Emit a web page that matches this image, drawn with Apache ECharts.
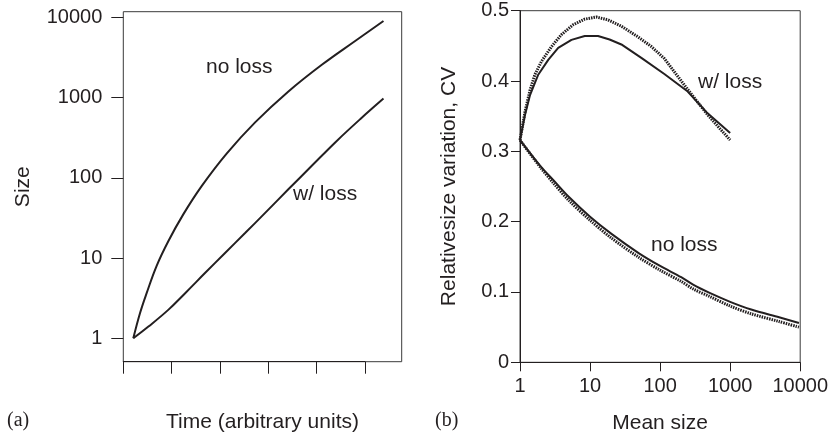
<!DOCTYPE html>
<html>
<head>
<meta charset="utf-8">
<script src="https://cdn.jsdelivr.net/npm/echarts@6/dist/echarts.min.js"></script>
<style>
  html, body { margin: 0; padding: 0; background: #fff; }
  #chart { width: 831px; height: 441px; }
</style>
</head>
<body>
<div id="chart"></div>
<script>
// panel (a): size against time, log scale
const timeNoLoss = [0.207, 0.345, 0.483, 0.69, 0.931, 1.241, 1.621, 2.138, 2.727, 3.416, 4.107, 4.797, 5.383];
const sizeNoLoss = [1, 2.05, 3.65, 8.0, 16.2, 35, 78.7, 200, 490, 1190, 2560, 5070, 9000];
const timeLoss = [0.207, 0.52, 0.93, 1.28, 1.69, 2.10, 2.52, 2.93, 3.42, 3.90, 4.40, 4.90, 5.383];
const sizeLoss = [1, 1.40, 2.26, 3.65, 6.5, 11.5, 20.5, 36.3, 72.4, 141, 282, 537, 970];
const sizeTicks = [1, 10, 100, 1000, 10000];

// panel (b): CV against mean size
const meanNoLoss = [1, 2, 3, 5, 10, 20, 50, 100, 200, 300, 500, 1000, 2000, 5000, 9600];
const cvNoLossSolid = [0.316, 0.278, 0.259, 0.235, 0.207, 0.183, 0.155, 0.137, 0.121, 0.110, 0.099, 0.086, 0.075, 0.064, 0.056];
const cvNoLossDotted = [0.316, 0.276, 0.255, 0.230, 0.202, 0.177, 0.149, 0.131, 0.115, 0.104, 0.094, 0.080, 0.069, 0.058, 0.050];
const meanLossSolid = [1, 1.18, 1.39, 1.82, 2.53, 3.51, 5.43, 8.4, 13, 19, 28, 54, 115, 248, 477, 1000];
const cvLossSolid = [0.316, 0.352, 0.380, 0.409, 0.430, 0.447, 0.4585, 0.464, 0.464, 0.459, 0.452, 0.433, 0.410, 0.385, 0.354, 0.326];
const meanLossDotted = [1, 1.18, 1.39, 1.63, 2.03, 2.82, 3.91, 5.73, 8.4, 12.3, 18, 28, 48, 75, 115, 248, 477, 1000];
const cvLossDotted = [0.316, 0.3565, 0.387, 0.409, 0.428, 0.449, 0.466, 0.480, 0.488, 0.491, 0.487, 0.478, 0.463, 0.449, 0.432, 0.388, 0.352, 0.316];

const ink = '#231f20';
const font = 'Liberation Sans, Arial, Helvetica, sans-serif';

function pairs(xs, ys) {
  return xs.map((x, i) => [x, ys[i]]);
}
// plain numbers, no thousands separator
function plain(v) {
  return String(Math.round(v * 1000) / 1000);
}

let myChart = echarts.init(document.getElementById('chart'), null, { renderer: 'canvas' });

const hidden = { show: false };
let tickStyle = (len) => ({ show: true, inside: false, length: len, lineStyle: { color: ink, width: 1 } });

var option = {
  animation: false,
  backgroundColor: '#fff',
  grid: [
    // box of panel a (border + axis names)
    { left: 123.3, top: 11.7, width: 278.4, height: 350, show: true, borderColor: '#3a3a3a', borderWidth: 1, containLabel: false },
    // data area of panel a: 1 .. 10000
    { left: 123.3, top: 17.3, width: 278.4, height: 321, containLabel: false },
    // time ticks 0..5 of panel a
    { left: 123.3, top: 11.7, width: 241.5, height: 350, containLabel: false },
    // panel b
    { left: 520, top: 10.7, width: 281.5, height: 351.6, show: true, borderColor: '#3a3a3a', borderWidth: 1, containLabel: false }
  ],
  xAxis: [
    {
      gridIndex: 0, type: 'value', min: 0, max: 1,
      axisLine: hidden, axisTick: hidden, axisLabel: hidden, splitLine: hidden,
      name: 'Time (arbitrary units)', nameLocation: 'middle', nameGap: 50,
      nameTextStyle: { fontFamily: font, fontSize: 21, color: ink }
    },
    {
      gridIndex: 1, type: 'value', min: 0, max: 5.76, show: false
    },
    {
      gridIndex: 2, type: 'value', min: 0, max: 5, interval: 1,
      axisLine: { show: true, lineStyle: { color: ink, width: 1 } },
      axisTick: tickStyle(12), axisLabel: hidden, splitLine: hidden
    },
    {
      gridIndex: 3, type: 'log', logBase: 10, min: 1, max: 10000,
      axisLine: { show: true, lineStyle: { color: ink, width: 1 } },
      axisTick: tickStyle(9), splitLine: hidden, minorTick: hidden,
      axisLabel: { margin: 14, fontFamily: font, fontSize: 20, color: ink, formatter: plain },
      name: 'Mean size', nameLocation: 'middle', nameGap: 50,
      nameTextStyle: { fontFamily: font, fontSize: 21, color: ink }
    }
  ],
  yAxis: [
    {
      gridIndex: 0, type: 'value', min: 0, max: 1,
      axisLine: hidden, axisTick: hidden, axisLabel: hidden, splitLine: hidden,
      name: 'Size', nameLocation: 'middle', nameGap: 90,
      nameTextStyle: { fontFamily: font, fontSize: 21, color: ink }
    },
    {
      gridIndex: 1, type: 'log', logBase: 10, min: sizeTicks[0], max: sizeTicks[sizeTicks.length - 1],
      axisLine: hidden, axisTick: tickStyle(12), splitLine: hidden, minorTick: hidden,
      axisLabel: { margin: 21, fontFamily: font, fontSize: 20, color: ink, formatter: plain }
    },
    {
      gridIndex: 2, type: 'value', min: 0, max: 1, show: false
    },
    {
      gridIndex: 3, type: 'value', min: 0, max: 0.5, interval: 0.1,
      axisLine: { show: true, lineStyle: { color: ink, width: 1 } },
      axisTick: tickStyle(9), splitLine: hidden,
      axisLabel: { margin: 11, fontFamily: font, fontSize: 20, color: ink },
      name: 'Relativesize variation, CV', nameLocation: 'middle', nameGap: 60,
      nameTextStyle: { fontFamily: font, fontSize: 21, color: ink }
    }
  ],
  series: [
    {
      name: 'no loss (a)', type: 'line', xAxisIndex: 1, yAxisIndex: 1,
      data: pairs(timeNoLoss, sizeNoLoss), smooth: 0.4, showSymbol: false,
      lineStyle: { color: ink, width: 2 }
    },
    {
      name: 'w/ loss (a)', type: 'line', xAxisIndex: 1, yAxisIndex: 1,
      data: pairs(timeLoss, sizeLoss), smooth: 0.4, showSymbol: false,
      lineStyle: { color: ink, width: 2 }
    },
    {
      name: 'no loss solid', type: 'line', xAxisIndex: 3, yAxisIndex: 3,
      data: pairs(meanNoLoss, cvNoLossSolid), smooth: 0.3, showSymbol: false,
      lineStyle: { color: ink, width: 2 }
    },
    {
      name: 'no loss dotted', type: 'line', xAxisIndex: 3, yAxisIndex: 3,
      data: pairs(meanNoLoss, cvNoLossDotted), smooth: 0.3, showSymbol: false,
      lineStyle: { color: ink, width: 3, type: [1.5, 1] }
    },
    {
      name: 'w/ loss solid', type: 'line', xAxisIndex: 3, yAxisIndex: 3,
      data: pairs(meanLossSolid, cvLossSolid), showSymbol: false,
      lineStyle: { color: ink, width: 2 }
    },
    {
      name: 'w/ loss dotted', type: 'line', xAxisIndex: 3, yAxisIndex: 3,
      data: pairs(meanLossDotted, cvLossDotted), showSymbol: false,
      lineStyle: { color: ink, width: 3, type: [1.5, 1] }
    }
  ],
  graphic: [
    { type: 'text', left: 206, top: 57, style: { text: 'no loss', font: '21px ' + font, fill: ink } },
    { type: 'text', left: 293, top: 184, style: { text: 'w/ loss', font: '21px ' + font, fill: ink } },
    { type: 'text', left: 698, top: 72, style: { text: 'w/ loss', font: '21px ' + font, fill: ink } },
    { type: 'text', left: 651, top: 235, style: { text: 'no loss', font: '21px ' + font, fill: ink } },
    { type: 'text', left: 7, top: 411, style: { text: '(a)', font: '20px Liberation Serif, Times New Roman, serif', fill: ink } },
    { type: 'text', left: 435, top: 411, style: { text: '(b)', font: '20px Liberation Serif, Times New Roman, serif', fill: ink } }
  ]
};

myChart.setOption(option);
</script>
</body>
</html>
